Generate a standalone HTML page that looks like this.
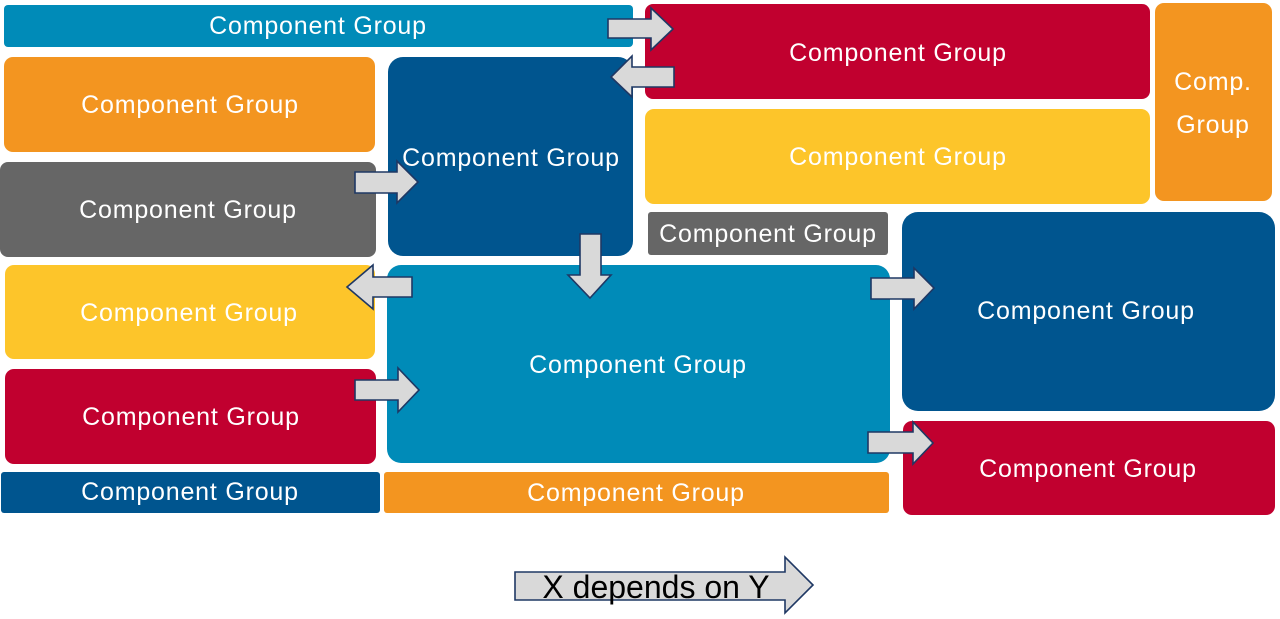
<!DOCTYPE html>
<html>
<head>
<meta charset="utf-8">
<style>
  html,body{margin:0;padding:0;background:#ffffff;}
  svg{display:block;}
  .t{font-family:"Liberation Sans",Arial,sans-serif;font-size:25px;fill:#ffffff;letter-spacing:0.8px;text-anchor:middle;dominant-baseline:central;}
  .ar{fill:#d9d9d9;stroke:#1f3864;stroke-width:1.6;stroke-linejoin:miter;}
</style>
</head>
<body>
<svg width="1280" height="619" viewBox="0 0 1280 619" xmlns="http://www.w3.org/2000/svg">
  <!-- Boxes -->
  <rect x="4" y="5" width="629" height="42" rx="4" fill="#008bb8"/>
  <rect x="645" y="4" width="505" height="95" rx="8" fill="#c1002f"/>
  <rect x="1155" y="3" width="117" height="198" rx="9" fill="#f39520"/>
  <rect x="4" y="57" width="371" height="95" rx="9" fill="#f39520"/>
  <rect x="388" y="57" width="245" height="199" rx="15" fill="#00558f"/>
  <rect x="645" y="109" width="505" height="95" rx="9" fill="#fdc52a"/>
  <rect x="0" y="162" width="376" height="95" rx="8" fill="#666666"/>
  <rect x="648" y="212" width="240" height="43" rx="3" fill="#666666"/>
  <rect x="902" y="212" width="373" height="199" rx="16" fill="#00558f"/>
  <rect x="5" y="265" width="370" height="94" rx="9" fill="#fdc52a"/>
  <rect x="387" y="265" width="503" height="198" rx="14" fill="#008bb8"/>
  <rect x="5" y="369" width="371" height="95" rx="9" fill="#c1002f"/>
  <rect x="903" y="421" width="372" height="94" rx="9" fill="#c1002f"/>
  <rect x="1" y="472" width="379" height="41" rx="3" fill="#00558f"/>
  <rect x="384" y="472" width="505" height="41" rx="3" fill="#f39520"/>

  <!-- Labels -->
  <text class="t" x="318" y="26">Component Group</text>
  <text class="t" x="898" y="53">Component Group</text>
  <text class="t" x="1213" y="82">Comp.</text>
  <text class="t" x="1213" y="125">Group</text>
  <text class="t" x="190" y="105">Component Group</text>
  <text class="t" x="511" y="158">Component Group</text>
  <text class="t" x="898" y="157">Component Group</text>
  <text class="t" x="188" y="210">Component Group</text>
  <text class="t" x="768" y="234">Component Group</text>
  <text class="t" x="1086" y="311">Component Group</text>
  <text class="t" x="189" y="313">Component Group</text>
  <text class="t" x="638" y="365">Component Group</text>
  <text class="t" x="191" y="417">Component Group</text>
  <text class="t" x="1088" y="469">Component Group</text>
  <text class="t" x="190" y="492">Component Group</text>
  <text class="t" x="636" y="493">Component Group</text>

  <!-- Arrows -->
  <polygon class="ar" points="608,19 651,19 651,8 673,29 651,50 651,38 608,38"/>
  <polygon class="ar" points="611,77 632,56 632,67 674,67 674,87 632,87 632,97"/>
  <polygon class="ar" points="355,172 397,172 397,161 418,182 397,203 397,193 355,193"/>
  <polygon class="ar" points="580,234 601,234 601,275 611,275 590,298 568,275 580,275"/>
  <polygon class="ar" points="347,287 373,265 373,277 412,277 412,297 373,297 373,309"/>
  <polygon class="ar" points="355,380 398,380 398,368 419,390 398,412 398,400 355,400"/>
  <polygon class="ar" points="871,278 914,278 914,268 934,288 914,309 914,299 871,299"/>
  <polygon class="ar" points="868,432 913,432 913,422 933,443 913,464 913,453 868,453"/>

  <!-- Legend arrow -->
  <polygon class="ar" points="515,572 785,572 785,557 813,585 785,613 785,600 515,600"/>
  <text x="656" y="598" font-family="'Liberation Sans',Arial,sans-serif" font-size="32" fill="#000000" text-anchor="middle">X depends on Y</text>
</svg>
</body>
</html>
